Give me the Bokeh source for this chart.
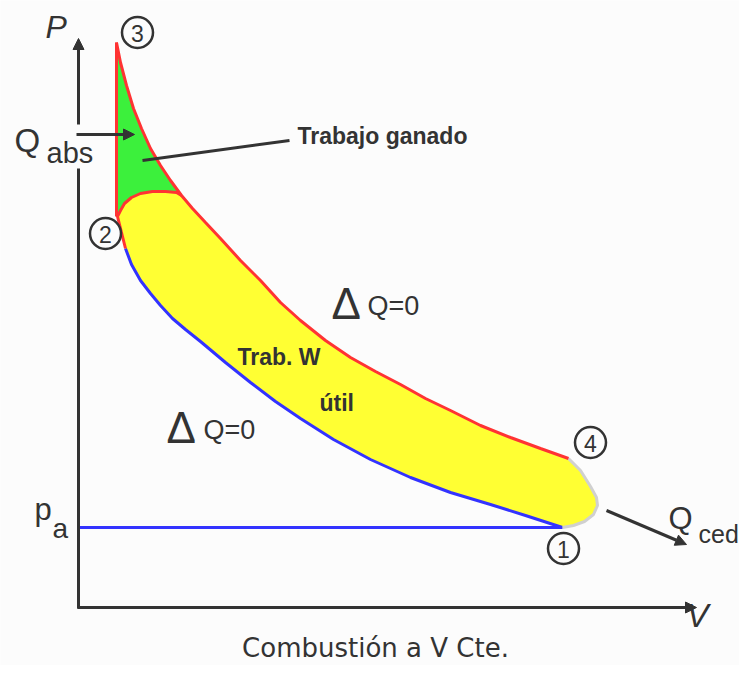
import numpy as np
from bokeh.plotting import figure
from bokeh.models import Range1d, Arrow, NormalHead
from bokeh.core.properties import value
from bokeh.embed import file_html
from bokeh.resources import INLINE

# ---- cycle data (V, P in drawing units, P grows downward on screen) ----
# adiabatic expansion 3 -> 4
exp_v = [116, 120, 126, 133, 141, 150, 160, 170, 181, 192, 205, 220, 240, 260, 280, 300,
         325, 350, 375, 400, 425, 450, 480, 510, 540, 568]
exp_p = [42, 62, 85, 108, 128, 148, 165, 180, 195, 208, 222, 238, 260, 280, 302, 320,
         340, 357, 371, 384, 398, 410, 425, 437, 448, 458]
# adiabatic compression 1 -> 2
comp_v = [562, 525, 490, 450, 410, 370, 333, 300, 275, 250, 225, 200, 185, 172, 160,
          150, 140, 131, 125]
comp_p = [527, 515, 504, 492, 477, 459, 439, 418, 401, 382, 362, 341, 329, 318, 305,
          293, 280, 264, 248]
# rounded real combustion boundary (top of useful-work area)
comb_v = [125, 121, 117, 120, 124, 131, 140, 152, 165, 176, 181]
comb_p = [248, 232, 216, 210, 203, 197, 193, 191, 191, 192, 195]
# exhaust 4 -> 1 (grey)
exh_v = [568, 580, 590, 596, 597, 593, 584, 573, 562]
exh_p = [458, 470, 486, 497, 505, 514, 521, 525, 527]
# constant volume heat addition 2 -> 3
iso_v = [116, 116]
iso_p = [216, 42]
# atmospheric pressure line
pa_v = [78, 562]
pa_p = [527, 527]

INK = "#333333"
RED = "#ff3333"
BLUE = "#3333ff"
YELLOW = "#ffff33"
GREEN = "#3cf03c"
GREY = "#d0d0d0"

W, H = 739, 665
p = figure(width=W, height=H, x_range=Range1d(0, W), y_range=Range1d(H, 0),
           output_backend="svg", toolbar_location=None, min_border=0,
           x_axis_type=None, y_axis_type=None)
p.grid.visible = False
p.outline_line_color = None
p.background_fill_color = "#fcfcfc"
p.border_fill_color = "#fcfcfc"

# ---- areas ----
ev = np.array(exp_v); ep = np.array(exp_p)
jv = comb_v[-1]
green_v = list(iso_v[:1]) + comb_v[2:] + list(ev[ev < jv][::-1])
green_p = list(iso_p[:1]) + comb_p[2:] + list(ep[ev < jv][::-1])
p.patch(green_v, green_p, fill_color=GREEN, line_color=None)

yel_v = comb_v + list(ev[ev > jv]) + exh_v + comp_v
yel_p = comb_p + list(ep[ev > jv]) + exh_p + comp_p
p.patch(yel_v, yel_p, fill_color=YELLOW, line_color=None)

# ---- lines ----
p.line(pa_v, pa_p, line_color=BLUE, line_width=3)
p.line(comp_v, comp_p, line_color=BLUE, line_width=3)
p.line(exh_v, exh_p, line_color=GREY, line_width=3)
p.line(exp_v, exp_p, line_color=RED, line_width=3)
p.line(comb_v, comb_p, line_color=RED, line_width=3)
p.line(iso_v, iso_p, line_color=RED, line_width=3)

# ---- axes ----
head = lambda: NormalHead(size=11, fill_color=INK, line_color=INK, line_width=1)
p.add_layout(Arrow(end=head(), x_start=78, y_start=124, x_end=78, y_end=38,
                   line_color=INK, line_width=3))
p.segment(x0=[78], y0=[168], x1=[78], y1=[608], line_color=INK, line_width=3)
p.add_layout(Arrow(end=head(), x_start=77, y_start=607, x_end=696, y_end=607,
                   line_color=INK, line_width=3))

# heat arrows and leader line
p.add_layout(Arrow(end=head(), x_start=76, y_start=134, x_end=134, y_end=134,
                   line_color=INK, line_width=3))
p.add_layout(Arrow(end=head(), x_start=606, y_start=510, x_end=686, y_end=544,
                   line_color=INK, line_width=3))
p.segment(x0=[142], y0=[160], x1=[289], y1=[140], line_color=INK, line_width=3)

# ---- state circles ----
st_v = [563, 105, 137, 590]
st_p = [548, 233, 32, 442]
st_lab = ["1", "2", "3", "4"]
p.scatter(st_v, st_p, size=31, marker="circle", fill_color="#fcfcfc",
          line_color=INK, line_width=2.5)
p.text(st_v, [y + 1 for y in st_p], text=st_lab, text_align="center",
       text_baseline="middle", text_color=INK, text_font=value("Liberation Sans"),
       text_font_size="23px")

def label(x, y, s, size, style="normal", font="Liberation Sans", align="left"):
    p.text([x], [y], text=[s], text_align=align, text_baseline="middle",
           text_color=INK, text_font=value(font), text_font_size=size,
           text_font_style=style)

label(45, 26, "P", "32px", "italic")
label(686, 615, "V", "33px", "italic")
label(14, 140, "Q", "33px")
label(46, 152, "abs", "29px")
label(34, 509, "p", "31px")
label(52, 528, "a", "28px")
label(668, 518, "Q", "31px")
label(698, 533, "ced", "25px")
label(297, 135, "Trabajo ganado", "23px", "bold")
label(237, 356, "Trab. W", "23px", "bold")
label(319, 402, "útil", "23px", "bold")
label(331, 303, "Δ", "44px")
label(367, 305, "Q=0", "27px")
label(166, 427, "Δ", "44px")
label(203, 429, "Q=0", "27px")
label(375, 647, "Combustión a V Cte.", "26px", "normal", "DejaVu Sans", "center")

open("out.html", "w").write(file_html(p, INLINE))
